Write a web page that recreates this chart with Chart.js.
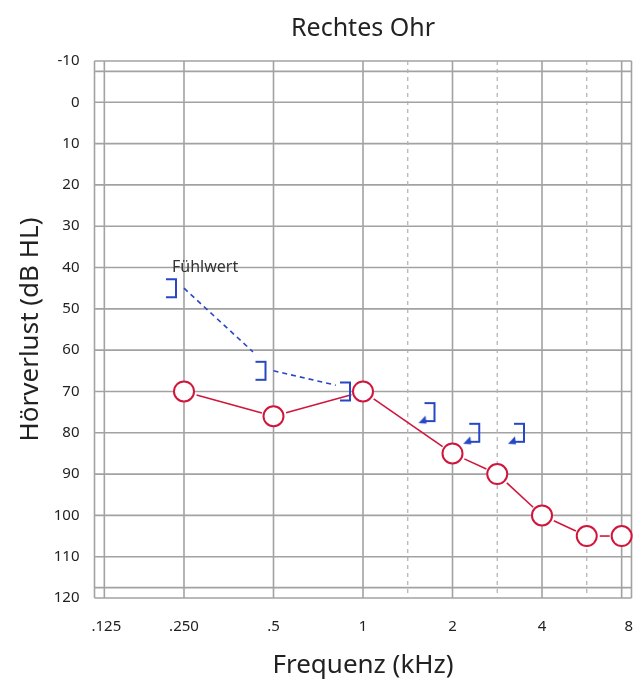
<!DOCTYPE html>
<html>
<head>
<meta charset="utf-8">
<script src="https://cdn.jsdelivr.net/npm/chart.js@4.4.1/dist/chart.umd.min.js"></script>
<style>
  html, body { margin: 0; padding: 0; background: #fff; }
  #wrap { width: 633px; height: 682px; }
</style>
</head>
<body>
<div id="wrap"><canvas id="audiogram"></canvas></div>
<script>
// tick labels / frequencies (Hz)
const freqTicks = [125, 250, 500, 1000, 2000, 4000, 8000];
const freqLabels = ['.125', '.250', '.5', '1', '2', '4', '8'];
const halfOctaves = [1500, 3000, 6000];
const dbTicks = [-10, 0, 10, 20, 30, 40, 50, 60, 70, 80, 90, 100, 110, 120];

// right ear, air conduction (O)
const airFreqs = [250, 500, 1000, 2000, 3000, 4000, 6000, 8000];
const airValues = [70, 76, 70, 85, 90, 100, 105, 105];

// right ear, masked bone conduction (])
const boneFreqs = [250, 500, 1000];
const boneValues = [45, 65, 70];

// bone conduction, no response
const noRespFreqs = [2000, 3000, 4000];
const noRespValues = [75, 80, 80];

const noteText = 'Fühlwert';

const RED = '#d0163c';
const BLUE = '#2747c4';
const GRID = '#a2a2a2';
const TEXT = '#222';
const FONT = "'Noto Sans', 'Open Sans', sans-serif";
const FRAME_X = 0.11;   // inner frame line, octaves
const FRAME_Y = 2.5;    // inner frame line, dB

// audiogram x position: one unit per octave, half-octaves linear in between
function octavePos(f) {
  const k = Math.floor(Math.log2(f / 125) + 1e-9);
  const base = 125 * Math.pow(2, k);
  const p = k + (f - base) / base;
  return Math.min(Math.max(p, FRAME_X), 6 - FRAME_X);
}

function pts(freqs, vals) {
  return freqs.map((f, i) => ({ x: octavePos(f), y: vals[i] }));
}

function bracketIcon(offset) {
  const c = document.createElement('canvas');
  c.width = 60; c.height = 30;
  const g = c.getContext('2d');
  const vx = 30 - offset;
  g.strokeStyle = BLUE; g.lineWidth = 2;
  g.beginPath();
  g.moveTo(vx - 10, 6); g.lineTo(vx, 6); g.lineTo(vx, 24); g.lineTo(vx - 10, 24);
  g.stroke();
  return c;
}

function arrowIcon(offset) {
  const c = document.createElement('canvas');
  c.width = 80; c.height = 30;
  const g = c.getContext('2d');
  const vx = 40 - offset;
  g.strokeStyle = BLUE; g.fillStyle = BLUE; g.lineWidth = 2;
  g.beginPath();
  g.moveTo(vx - 10, 6); g.lineTo(vx, 6); g.lineTo(vx, 24); g.lineTo(vx - 9, 24);
  g.stroke();
  g.beginPath();
  g.moveTo(vx - 16, 26); g.lineTo(vx - 9, 18.5); g.lineTo(vx - 8, 26.5);
  g.closePath(); g.fill();
  return c;
}

const b8 = bracketIcon(8), b13 = bracketIcon(13);
const arrow = arrowIcon(18);

function links(ctx, points, gapStart, gapEnd) {
  for (let i = 0; i < points.length - 1; i++) {
    const p = points[i], q = points[i + 1];
    const dx = q.x - p.x, dy = q.y - p.y;
    const len = Math.hypot(dx, dy);
    if (len <= gapStart + gapEnd) continue;
    const ux = dx / len, uy = dy / len;
    ctx.beginPath();
    ctx.moveTo(p.x + ux * gapStart, p.y + uy * gapStart);
    ctx.lineTo(q.x - ux * gapEnd, q.y - uy * gapEnd);
    ctx.stroke();
  }
}

const audioPlugin = {
  id: 'audio',
  beforeDatasetsDraw(chart) {
    const { ctx, chartArea: a, scales: { x, y } } = chart;
    ctx.save();
    ctx.strokeStyle = GRID;
    ctx.lineWidth = 1.6;
    const vx = freqTicks.map(f => Math.log2(f / 125)).concat([FRAME_X, 6 - FRAME_X]);
    vx.forEach(v => {
      const px = x.getPixelForValue(v);
      ctx.beginPath(); ctx.moveTo(px, a.top); ctx.lineTo(px, a.bottom); ctx.stroke();
    });
    const hy = dbTicks.concat([-10 + FRAME_Y, 120 - FRAME_Y]);
    hy.forEach(v => {
      const py = y.getPixelForValue(v);
      ctx.beginPath(); ctx.moveTo(a.left, py); ctx.lineTo(a.right, py); ctx.stroke();
    });
    ctx.setLineDash([4, 4]);
    ctx.lineWidth = 1.2;
    ctx.strokeStyle = '#b0b0b0';
    halfOctaves.forEach(f => {
      const px = x.getPixelForValue(octavePos(f));
      ctx.beginPath(); ctx.moveTo(px, a.top); ctx.lineTo(px, a.bottom); ctx.stroke();
    });

    // connecting lines, stopping short of the symbols
    ctx.setLineDash([]);
    ctx.strokeStyle = RED; ctx.lineWidth = 1.6;
    links(ctx, chart.getDatasetMeta(0).data, 13, 12);
    ctx.setLineDash([5, 4]);
    ctx.strokeStyle = BLUE; ctx.lineWidth = 1.6;
    links(ctx, chart.getDatasetMeta(1).data, 0, 28);
    ctx.restore();
  },
  afterDraw(chart) {
    const { ctx, chartArea: a, scales: { x } } = chart;
    ctx.save();
    ctx.fillStyle = TEXT;
    ctx.font = '15px ' + FONT;
    ctx.textBaseline = 'middle';
    ctx.textAlign = 'center';
    freqTicks.forEach((f, i) => {
      const w = ctx.measureText(freqLabels[i]).width;
      let px = x.getPixelForValue(Math.log2(f / 125));
      px = Math.min(Math.max(px, a.left - 3 + w / 2), chart.width - w / 2);
      ctx.fillText(freqLabels[i], px, a.bottom + 29);
    });
    // annotation next to the first bone value
    const p = chart.getDatasetMeta(1).data[0];
    ctx.font = '16px ' + FONT;
    ctx.textAlign = 'left';
    ctx.fillStyle = '#333';
    ctx.fillText(noteText, p.x - 12, p.y - 21);
    ctx.restore();
  }
};

new Chart(document.getElementById('audiogram'), {
  type: 'scatter',
  data: {
    datasets: [
      {
        label: 'Luftleitung rechts',
        data: pts(airFreqs, airValues),
        pointStyle: 'circle',
        pointRadius: 10,
        pointBorderWidth: 2,
        pointBorderColor: RED,
        pointBackgroundColor: '#fff',
        showLine: false,
        clip: false
      },
      {
        label: 'Knochenleitung rechts',
        data: pts(boneFreqs, boneValues),
        pointStyle: [b8, b8, b13],
        pointRadius: 10,
        showLine: false,
        clip: false
      },
      {
        label: 'Keine Antwort',
        data: pts(noRespFreqs, noRespValues),
        pointStyle: arrow,
        pointRadius: 10,
        showLine: false,
        clip: false
      }
    ]
  },
  options: {
    responsive: true,
    maintainAspectRatio: false,
    animation: false,
    events: [],
    layout: { autoPadding: false, padding: { right: 1.5 } },
    plugins: {
      legend: { display: false },
      tooltip: { enabled: false },
      title: {
        display: true,
        text: 'Rechtes Ohr',
        fullSize: false,
        color: TEXT,
        font: { family: FONT, size: 25, weight: 'normal' },
        padding: { top: 14, bottom: 17 }
      }
    },
    scales: {
      x: {
        type: 'linear',
        min: 0,
        max: 6,
        grid: { display: false, drawTicks: false },
        border: { display: false },
        ticks: { display: false },
        title: {
          display: true,
          text: 'Frequenz (kHz)',
          color: TEXT,
          font: { family: FONT, size: 26 },
          padding: { top: 0, bottom: 1 }
        },
        afterFit(s) { s.height = 84; }
      },
      y: {
        reverse: true,
        min: -10,
        max: 120,
        grid: { display: false, drawTicks: false },
        border: { display: false },
        afterBuildTicks(s) { s.ticks = dbTicks.map(v => ({ value: v })); },
        ticks: {
          color: TEXT,
          padding: 15,
          font: { family: FONT, size: 15 },
          callback: v => String(v)
        },
        title: {
          display: true,
          text: 'Hörverlust (dB HL)',
          color: TEXT,
          font: { family: FONT, size: 26 },
          padding: { top: 15, bottom: 0 }
        },
        afterFit(s) { s.width = 94.5; }
      }
    }
  },
  plugins: [audioPlugin]
});
</script>
</body>
</html>
